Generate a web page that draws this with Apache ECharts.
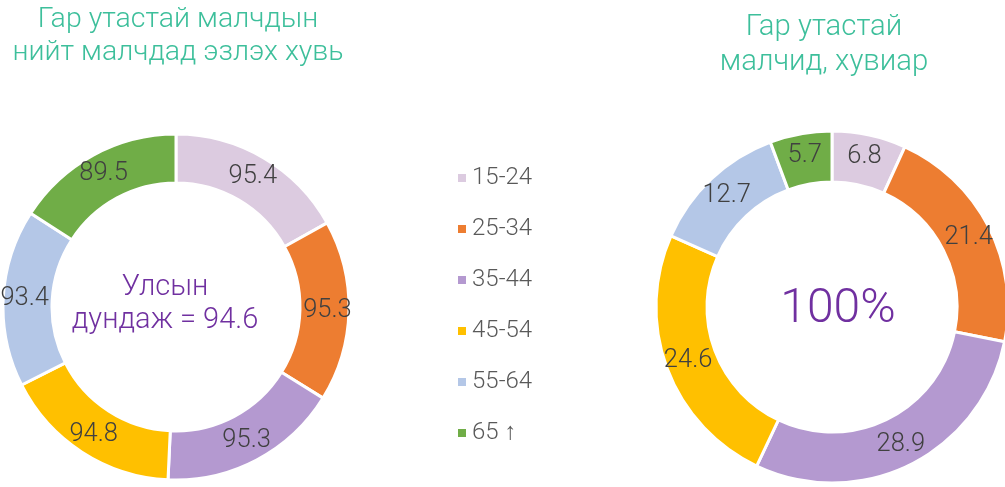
<!DOCTYPE html>
<html>
<head>
<meta charset="utf-8">
<script src="https://cdn.jsdelivr.net/npm/echarts@6/dist/echarts.min.js"></script>
<style>
  html, body { margin: 0; padding: 0; background: #fff; }
  #main { width: 1005px; height: 487px; }
</style>
</head>
<body>
<div id="main"></div>
<script>
// age groups
var ageGroups = ['15-24', '25-34', '35-44', '45-54', '55-64', '65 ↑'];
var groupColors = ['#dccbe0', '#ed7d31', '#b499d0', '#ffc000', '#b4c7e7', '#70ad47'];
// share of herders with mobile phone inside each age group
var shareInGroup = [95.4, 95.3, 95.3, 94.8, 93.4, 89.5];
// distribution of herders with mobile phone, percent
var shareOfTotal = [6.8, 21.4, 28.9, 24.6, 12.7, 5.7];

var leftTitle = 'Гар утастай малчдын\nнийт малчдад эзлэх хувь';
var rightTitle = 'Гар утастай\nмалчид, хувиар';
var leftCenter = 'Улсын\nдундаж = 94.6';
var rightCenter = '100%';

function toData(vals) {
  var out = [];
  for (var i = 0; i < vals.length; i++) {
    out.push({ name: ageGroups[i], value: vals[i] });
  }
  return out;
}

var titleColor = '#3dbf9b';
var font = 'Roboto, sans-serif';

var chart = echarts.init(document.getElementById('main'));
var donut = {
  type: 'pie',
  radius: [124, 173],
  startAngle: 90,
  clockwise: true,
  silent: true,
  animation: false,
  itemStyle: { borderColor: '#fff', borderWidth: 3 },
  label: {
    show: true,
    position: 'inside',
    formatter: '{c}',
    color: '#404040',
    fontFamily: font,
    fontWeight: 300,
    fontSize: 25.5
  },
  labelLine: { show: false }
};

var option = {
  backgroundColor: '#fff',
  color: groupColors,
  title: [
    {
      text: leftTitle, left: 178, top: 3, padding: 0, textAlign: 'center',
      textStyle: { color: titleColor, fontFamily: font, fontWeight: 300, fontSize: 28.5, lineHeight: 33 }
    },
    {
      text: rightTitle, left: 824, top: 10, padding: 0, textAlign: 'center',
      textStyle: { color: titleColor, fontFamily: font, fontWeight: 300, fontSize: 29.3, lineHeight: 35 }
    },
    {
      text: leftCenter, left: 165, top: 271, padding: 0, textAlign: 'center',
      textStyle: { color: '#7030a0', fontFamily: font, fontWeight: 300, fontSize: 29, lineHeight: 33 }
    },
    {
      text: rightCenter, left: 838, top: 285, padding: 0, textAlign: 'center',
      textStyle: { color: '#7030a0', fontFamily: font, fontWeight: 300, fontSize: 48, lineHeight: 50 }
    }
  ],
  legend: {
    orient: 'vertical',
    left: 456,
    top: 166,
    padding: 0,
    itemWidth: 10,
    itemHeight: 10,
    itemGap: 27,
    icon: 'rect',
    selectedMode: false,
    data: ageGroups,
    textStyle: { color: '#595959', fontFamily: font, fontWeight: 300, fontSize: 24, lineHeight: 22 }
  },
  series: [
    Object.assign({}, donut, { name: 'left', center: [176, 307], data: toData(shareInGroup) }),
    Object.assign({}, donut, { name: 'right', radius: [125, 176], center: [832, 307], data: toData(shareOfTotal) })
  ]
};
chart.setOption(option);
</script>
</body>
</html>
